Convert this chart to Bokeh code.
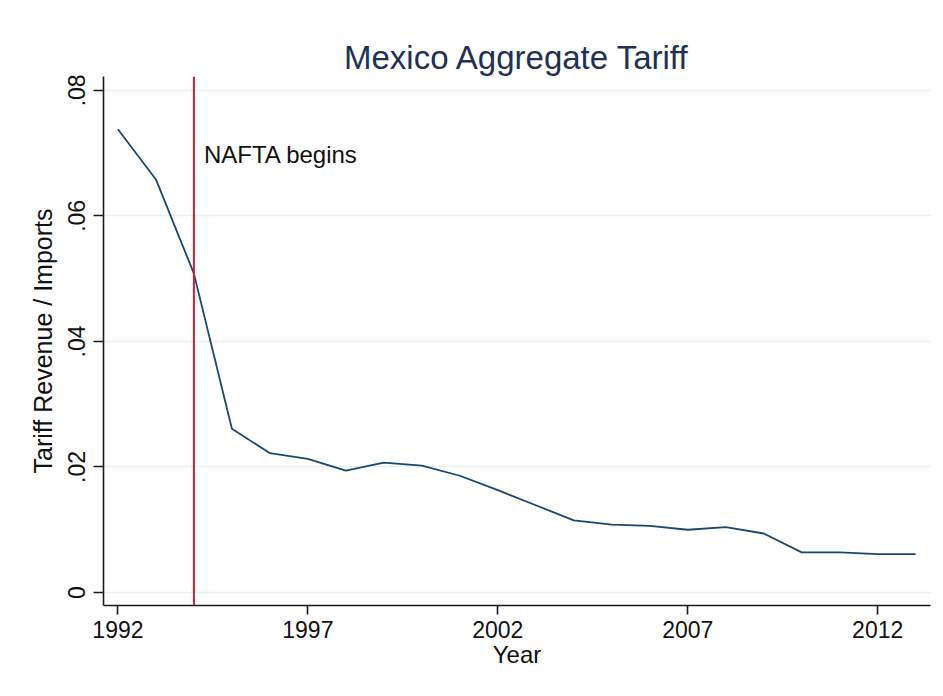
from bokeh.plotting import figure
from bokeh.models import Range1d, FixedTicker, Span, Label
from bokeh.embed import file_html
from bokeh.resources import INLINE

years = [1992, 1993, 1994, 1995, 1996, 1997, 1998, 1999, 2000, 2001, 2002,
         2003, 2004, 2005, 2006, 2007, 2008, 2009, 2010, 2011, 2012, 2013]
tariff = [0.0738, 0.0658, 0.0508, 0.0261, 0.0222, 0.0213, 0.0194, 0.0207,
          0.0202, 0.0186, 0.0163, 0.0139, 0.0115, 0.0108, 0.0106, 0.0100,
          0.0104, 0.0094, 0.0064, 0.0064, 0.0061, 0.0061]

x_ticks = [1992, 1997, 2002, 2007, 2012]
y_ticks = [0, 0.02, 0.04, 0.06, 0.08]
y_tick_labels = ["0", ".02", ".04", ".06", ".08"]

nafta_year = 1994
nafta_text = "NAFTA begins"
nafta_text_y = 0.0698

FONT = "Liberation Sans"

p = figure(width=935, height=688, output_backend="svg", toolbar_location=None,
           x_range=Range1d(1991.62, 2013.39), y_range=Range1d(-0.00207, 0.0822),
           min_border_left=103, min_border_right=5, min_border_top=76,
           min_border_bottom=83, title="Mexico Aggregate Tariff")

p.outline_line_color = None
p.background_fill_color = "white"
p.border_fill_color = "white"

p.title.align = "center"
p.title.text_font = FONT
p.title.text_font_size = "33px"
p.title.text_font_style = "normal"
p.title.text_color = "#1e3056"
p.title.standoff = 2

# axes
for ax in (p.xaxis[0], p.yaxis[0]):
    ax.axis_line_color = "#1a1a1a"
    ax.axis_line_width = 1.6
    ax.major_tick_line_color = "#1a1a1a"
    ax.major_tick_line_width = 1.6
    ax.minor_tick_line_color = None
    ax.major_tick_in = 0
    ax.major_label_text_font = FONT
    ax.major_label_text_font_size = "23px"
    ax.major_label_text_color = "#111111"
    ax.axis_label_text_font = FONT
    ax.axis_label_text_font_style = "normal"
    ax.axis_label_text_color = "#111111"

p.xaxis.ticker = FixedTicker(ticks=x_ticks)
p.xaxis.major_tick_out = 9
p.xaxis.major_label_standoff = 6
p.xaxis.axis_label = "Year"
p.xaxis.axis_label_text_font_size = "24px"
p.xaxis.axis_label_standoff = 0

p.yaxis.ticker = FixedTicker(ticks=y_ticks)
p.yaxis.major_label_overrides = {t: l for t, l in zip(y_ticks, y_tick_labels)}
p.yaxis.major_label_orientation = "vertical"
p.yaxis.major_tick_out = 10
p.yaxis.major_label_standoff = 8
p.yaxis.axis_label = "Tariff Revenue / Imports"
p.yaxis.axis_label_text_font_size = "25px"
p.yaxis.axis_label_standoff = 9

p.xgrid.grid_line_color = None
p.ygrid.ticker = FixedTicker(ticks=y_ticks)
p.ygrid.grid_line_color = "#e8f0f2"
p.ygrid.grid_line_width = 1.6

p.add_layout(Span(location=nafta_year, dimension="height",
                  line_color="#c8203f", line_width=2))

p.line(years, tariff, line_color="#1a476f", line_width=1.8)

p.add_layout(Label(x=nafta_year, y=nafta_text_y, x_offset=10, text=nafta_text,
                   text_font=FONT, text_font_size="24px", text_color="#111111",
                   text_baseline="middle", text_align="left"))

open("out.html", "w").write(file_html(p, INLINE))
